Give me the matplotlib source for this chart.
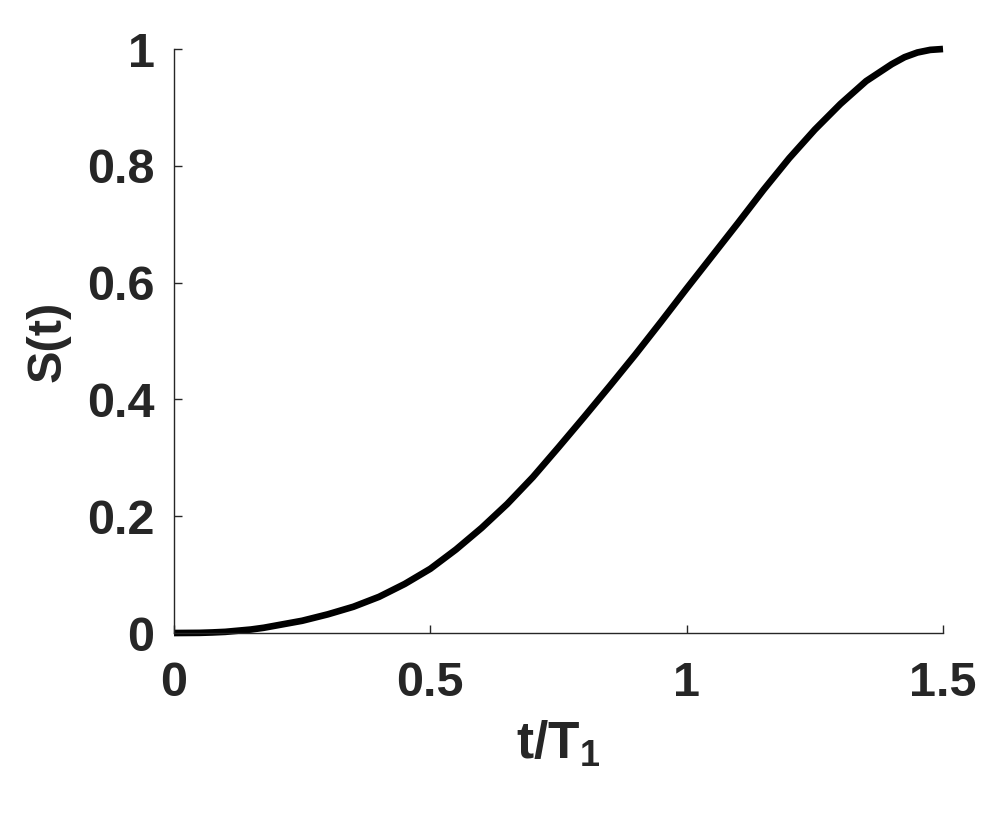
import matplotlib
matplotlib.use("Agg")
import matplotlib.pyplot as plt

# values
t_over_T1 = [0.00, 0.05, 0.075, 0.10, 0.125, 0.15, 0.175, 0.20, 0.25, 0.30, 0.35, 0.40, 0.45,
             0.50, 0.55, 0.60, 0.65, 0.70, 0.75, 0.80, 0.85, 0.90, 0.95,
             1.00, 1.05, 1.10, 1.15, 1.20, 1.25, 1.30, 1.35, 1.40, 1.425, 1.45, 1.475, 1.50]
S_t = [0.000, 0.0003, 0.001, 0.002, 0.004, 0.006, 0.009, 0.013, 0.021, 0.032, 0.045, 0.062, 0.084,
       0.110, 0.143, 0.180, 0.221, 0.267, 0.318, 0.370, 0.423, 0.477, 0.533,
       0.590, 0.646, 0.702, 0.759, 0.813, 0.862, 0.906, 0.945, 0.974, 0.986, 0.994, 0.9985, 1.000]

x_ticks = [0, 0.5, 1, 1.5]
x_tick_labels = ["0", "0.5", "1", "1.5"]
y_ticks = [0, 0.2, 0.4, 0.6, 0.8, 1]
y_tick_labels = ["0", "0.2", "0.4", "0.6", "0.8", "1"]

font = "Liberation Sans"
txt = "#262626"

plt.rcParams["mathtext.fontset"] = "custom"
plt.rcParams["mathtext.rm"] = font
plt.rcParams["mathtext.bf"] = font + ":bold"

fig = plt.figure(figsize=(10.03, 8.25), dpi=100)
ax = fig.add_axes([0.1735, 0.2327, 0.7667, 0.7079])

ax.plot(t_over_T1, S_t, color="black", lw=4.8, solid_joinstyle="round",
        solid_capstyle="butt", clip_on=False)

ax.set_xlim(0, 1.5)
ax.set_ylim(0, 1)
ax.spines["top"].set_visible(False)
ax.spines["right"].set_visible(False)
for s in ["left", "bottom"]:
    ax.spines[s].set_color(txt)
    ax.spines[s].set_linewidth(1.0)

ax.set_xticks(x_ticks)
ax.set_xticklabels(x_tick_labels, fontfamily=font, fontweight="bold", fontsize=35, color=txt)
ax.set_yticks(y_ticks)
ax.set_yticklabels(y_tick_labels, fontfamily=font, fontweight="bold", fontsize=35, color=txt)
ax.tick_params(axis="both", direction="in", length=6, width=1.0, color=txt)
ax.tick_params(axis="x", pad=20)
ax.tick_params(axis="y", pad=14)

ax.set_xlabel(r"$\mathbf{t/T_1}$", fontsize=37, color=txt, labelpad=10)
ax.set_ylabel("S(t)", fontfamily=font, fontweight="bold", fontsize=35, color=txt, labelpad=12)

fig.savefig("out.png", dpi=100)
